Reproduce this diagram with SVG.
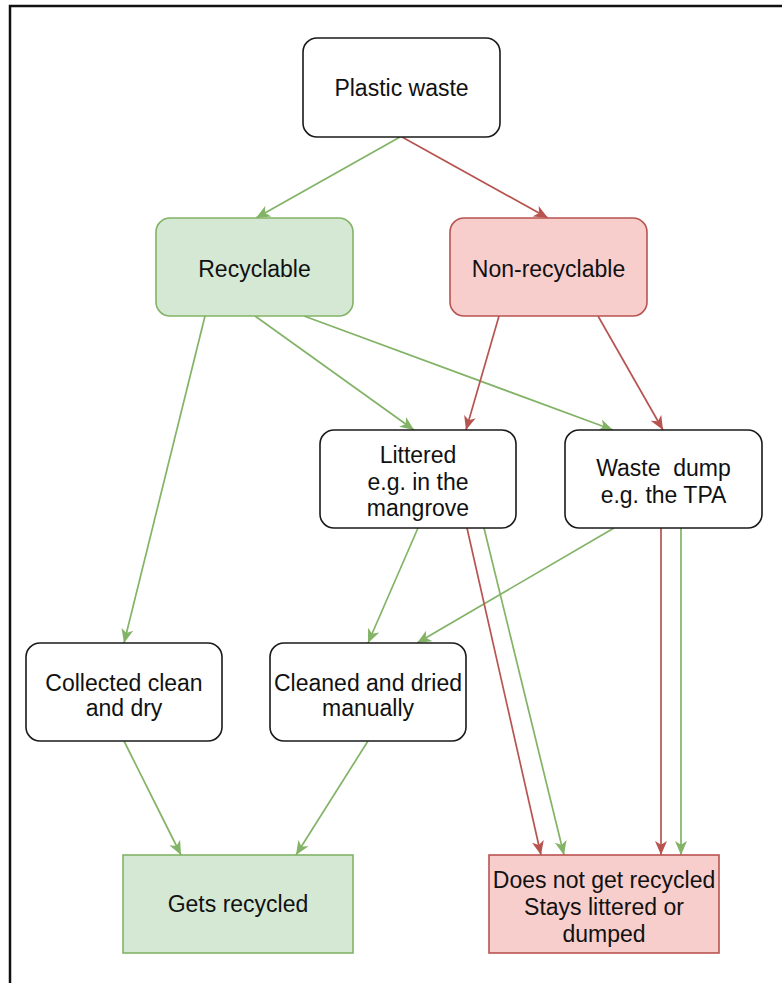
<svg xmlns="http://www.w3.org/2000/svg" width="782" height="983" viewBox="0 0 782 983">
<style>
.box{fill:#ffffff;stroke:#1a1a1a;stroke-width:1.6}
.g{fill:#d5e8d4;stroke:#82b366;stroke-width:1.6}
.r{fill:#f8cecc;stroke:#b85450;stroke-width:1.6}
text{font-family:"Liberation Sans",Arial,Helvetica,sans-serif;font-size:23px;fill:#111;text-anchor:middle}
.cg{stroke:#82b366;stroke-width:1.7;fill:none;marker-end:url(#ag)}
.cr{stroke:#b85450;stroke-width:1.7;fill:none;marker-end:url(#ar)}
</style>
<defs>
<marker id="ag" markerUnits="userSpaceOnUse" markerWidth="15" markerHeight="13" viewBox="0 0 15 13" refX="14" refY="6.5" orient="auto">
<path d="M0,0.5 L14,6.5 L0,12.5 L3.8,6.5 z" fill="#82b366"/>
</marker>
<marker id="ar" markerUnits="userSpaceOnUse" markerWidth="15" markerHeight="13" viewBox="0 0 15 13" refX="14" refY="6.5" orient="auto">
<path d="M0,0.5 L14,6.5 L0,12.5 L3.8,6.5 z" fill="#b85450"/>
</marker>
</defs>
<rect width="782" height="983" fill="#ffffff"/>
<path d="M10,983 L10,6 L782,6" fill="none" stroke="#111" stroke-width="2.5"/>
<g id="connectors">
<line class="cg" x1="400" y1="137" x2="256" y2="218"/>
<line class="cr" x1="402" y1="137" x2="548" y2="218"/>
<line class="cg" x1="205" y1="316" x2="124" y2="643"/>
<line class="cg" x1="255" y1="316" x2="414" y2="430"/>
<line class="cg" x1="304" y1="316" x2="613" y2="430"/>
<line class="cr" x1="499" y1="316" x2="466" y2="430"/>
<line class="cr" x1="598" y1="316" x2="663" y2="430"/>
<line class="cg" x1="418" y1="528" x2="368" y2="643"/>
<line class="cg" x1="614" y1="528" x2="417" y2="643"/>
<line class="cr" x1="467" y1="528" x2="541" y2="855"/>
<line class="cg" x1="484" y1="528" x2="564" y2="855"/>
<line class="cr" x1="661" y1="528" x2="661" y2="855"/>
<line class="cg" x1="681" y1="528" x2="681" y2="855"/>
<line class="cg" x1="124" y1="741" x2="181" y2="855"/>
<line class="cg" x1="368" y1="741" x2="296" y2="855"/>
</g>
<g id="plastic-waste">
<rect class="box" x="303" y="38" width="197" height="99" rx="14"/>
<text x="401.5" y="96">Plastic waste</text>
</g>
<g id="recyclable">
<rect class="g" x="156" y="218" width="197" height="98" rx="14"/>
<text x="254.5" y="277">Recyclable</text>
</g>
<g id="non-recyclable">
<rect class="r" x="450" y="218" width="197" height="98" rx="14"/>
<text x="548.5" y="277">Non-recyclable</text>
</g>
<g id="littered">
<rect class="box" x="320" y="430" width="196" height="98" rx="14"/>
<text x="418" y="463">Littered</text>
<text x="418" y="490">e.g. in the</text>
<text x="418" y="516">mangrove</text>
</g>
<g id="waste-dump">
<rect class="box" x="565" y="430" width="197" height="98" rx="14"/>
<text x="663.5" y="476" xml:space="preserve">Waste  dump</text>
<text x="663.5" y="503">e.g. the TPA</text>
</g>
<g id="collected">
<rect class="box" x="26" y="643" width="196" height="98" rx="14"/>
<text x="124" y="691">Collected clean</text>
<text x="124" y="716">and dry</text>
</g>
<g id="cleaned">
<rect class="box" x="270" y="643" width="196" height="98" rx="14"/>
<text x="368" y="691">Cleaned and dried</text>
<text x="368" y="716">manually</text>
</g>
<g id="gets-recycled">
<rect class="g" x="123" y="855" width="230" height="98"/>
<text x="238" y="912">Gets recycled</text>
</g>
<g id="not-recycled">
<rect class="r" x="489" y="855" width="230" height="98"/>
<text x="604" y="888">Does not get recycled</text>
<text x="604" y="915">Stays littered or</text>
<text x="604" y="942">dumped</text>
</g>
</svg>
